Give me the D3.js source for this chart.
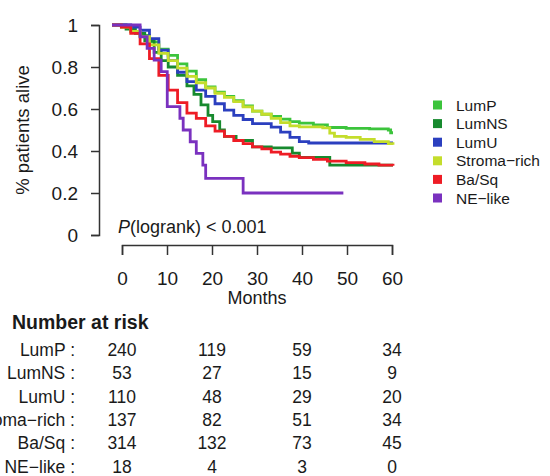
<!DOCTYPE html>
<html>
<head>
<meta charset="utf-8">
<script src="https://cdn.jsdelivr.net/npm/d3@7"></script>
<style>
  body { margin: 0; background: #fff; }
  text { font-family: "Liberation Sans", Arial, sans-serif; fill: #1a1a1a; }
</style>
</head>
<body>
<div id="chart"></div>
<script>
// subtypes and colours
var groups = ["LumP", "LumNS", "LumU", "Stroma-rich", "Ba/Sq", "NE-like"];
var colors = ["#3cc43c", "#178a2e", "#2b3fbf", "#c4dd2c", "#ee1c25", "#7a31bf"];

// survival curves [month, fraction alive]
var lumP = [[0,1],[2,0.99],[4,0.97],[6,0.95],[8,0.92],[10,0.885],[12,0.855],[14,0.815],[16,0.78],[18,0.74],[20,0.705],[22,0.68],[24,0.66],[26,0.64],[28,0.615],[30,0.59],[32,0.575],[34,0.565],[36,0.552],[38,0.54],[40,0.533],[43,0.524],[46,0.512],[50,0.508],[55,0.505],[59,0.5],[59.5,0.487],[60,0.487]];
var lumNS = [[0,1],[3,0.98],[5,0.96],[7,0.925],[9,0.87],[10.5,0.83],[12,0.8],[14,0.76],[16,0.71],[17.5,0.67],[19,0.62],[20.5,0.57],[21.5,0.54],[23,0.5],[24,0.47],[26.5,0.45],[30,0.42],[34,0.415],[38.5,0.39],[40,0.37],[46.5,0.333],[60,0.333]];
var lumU = [[0,1],[4,0.99],[6,0.975],[8,0.935],[10,0.88],[12,0.83],[14,0.775],[16,0.73],[18,0.69],[20,0.66],[22,0.625],[24,0.595],[26,0.57],[28,0.55],[30,0.53],[34,0.514],[36,0.49],[38,0.465],[40,0.445],[42,0.438],[60,0.438]];
var stromaRich = [[0,1],[2,0.99],[4,0.97],[6,0.945],[8,0.905],[10,0.865],[12,0.83],[14,0.795],[16,0.755],[18,0.725],[20,0.7],[22,0.675],[24,0.655],[26,0.635],[28,0.61],[30,0.59],[32,0.575],[34,0.555],[36,0.535],[38,0.52],[40,0.515],[45,0.51],[46.5,0.485],[47.5,0.47],[50,0.465],[53,0.455],[56,0.445],[59,0.435],[60,0.43]];
var baSq = [[0,1],[2,0.99],[4,0.96],[6,0.91],[8,0.84],[10,0.76],[12,0.69],[14,0.63],[16,0.58],[18,0.555],[20,0.52],[22,0.495],[24,0.47],[26,0.45],[28,0.435],[30,0.42],[32,0.41],[34,0.395],[36,0.385],[38,0.375],[40,0.368],[43,0.36],[46,0.352],[50,0.345],[54,0.338],[57,0.333],[60,0.33]];
var neLike = [[0,1],[6,0.944],[7.5,0.889],[9,0.833],[10.5,0.778],[11.8,0.611],[14.5,0.556],[15.2,0.5],[16.7,0.444],[18,0.389],[19.4,0.333],[20,0.27],[28,0.2],[49.4,0.2]];
var curves = [lumP, lumNS, lumU, stromaRich, baSq, neLike];

// number at risk table
var riskTimes = [0, 20, 40, 60];
var riskCounts = [
    [240, 119, 59, 34],
    [53, 27, 15, 9],
    [110, 48, 29, 20],
    [137, 82, 51, 34],
    [314, 132, 73, 45],
    [18, 4, 3, 0]
];

var yTicks = [0, 0.2, 0.4, 0.6, 0.8, 1];
var xTicks = [0, 10, 20, 30, 40, 50, 60];

var width = 550, height = 476;
var svg = d3.select("#chart").append("svg")
    .attr("width", width).attr("height", height);
svg.append("rect").attr("width", width).attr("height", height).attr("fill", "#fff");

// the axis and the curves are offset a little in the original figure
var xAxisScale = d3.scaleLinear().domain([0, 60]).range([122, 392]);
var xCurve = d3.scaleLinear().domain([0, 60]).range([112, 393]);
var y = d3.scaleLinear().domain([0, 1]).range([235, 25]);

//y axis
var yAxis = svg.append("g")
    .attr("transform", "translate(99,0)")
    .call(d3.axisLeft(y).tickValues(yTicks).tickSize(8).tickPadding(13)
        .tickFormat(function(d) { return d === 0 ? "0" : d === 1 ? "1" : d3.format(".1f")(d); }));
yAxis.selectAll("text").style("font-size", "19px").attr("fill", "#1a1a1a");
yAxis.selectAll("path, line").attr("stroke", "#333").attr("stroke-width", 1.5);

svg.append("text")
    .attr("transform", "translate(29,130) rotate(-90)")
    .attr("text-anchor", "middle")
    .style("font-size", "18.5px")
    .text("% patients alive");

//x axis
var xAxis = svg.append("g")
    .attr("transform", "translate(0,245)")
    .call(d3.axisBottom(xAxisScale).tickValues(xTicks).tickSize(10).tickPadding(17));
xAxis.selectAll("text").style("font-size", "19px").attr("fill", "#1a1a1a");
xAxis.selectAll("path, line").attr("stroke", "#333").attr("stroke-width", 1.5);

svg.append("text")
    .attr("x", xAxisScale(30)).attr("y", 304)
    .attr("text-anchor", "middle")
    .style("font-size", "18px")
    .text("Months");

// KM curves
var line = d3.line()
    .x(function(d) { return xCurve(d[0]); })
    .y(function(d) { return y(d[1]); })
    .curve(d3.curveStepAfter);

svg.append("g").selectAll("path")
    .data(curves)
    .enter().append("path")
    .attr("d", line)
    .attr("fill", "none")
    .attr("stroke", function(d, i) { return colors[i]; })
    .attr("stroke-width", 2.8);

// p value
var pText = svg.append("text")
    .attr("x", 118).attr("y", 233)
    .style("font-size", "18px");
pText.append("tspan").style("font-style", "italic").text("P");
pText.append("tspan").text("(logrank) < 0.001");

// legend
var legend = svg.append("g").selectAll("g")
    .data(groups)
    .enter().append("g")
    .attr("transform", function(d, i) { return "translate(433," + (105 + i * 18.6) + ")"; });
legend.append("rect")
    .attr("x", 0).attr("y", -4.5).attr("width", 9).attr("height", 9)
    .attr("fill", function(d, i) { return colors[i]; });
legend.append("text")
    .attr("x", 23).attr("y", 5.5)
    .style("font-size", "15.5px")
    .text(function(d) { return d.replace("-", "\u2212"); });

// number at risk
svg.append("text")
    .attr("x", 12).attr("y", 329)
    .style("font-size", "19.5px").style("font-weight", "bold")
    .text("Number at risk");

var rows = svg.append("g").selectAll("g")
    .data(groups)
    .enter().append("g")
    .attr("transform", function(d, i) { return "translate(0," + (356 + i * 23.3) + ")"; });
rows.append("text")
    .attr("x", 75).attr("text-anchor", "end")
    .style("font-size", "17.5px")
    .text(function(d) { return d.replace("-", "\u2212") + " :"; });
rows.selectAll("text.count")
    .data(function(d, i) { return riskCounts[i]; })
    .enter().append("text")
    .attr("class", "count")
    .attr("x", function(d, j) { return xAxisScale(riskTimes[j]); })
    .attr("text-anchor", "middle")
    .style("font-size", "17.5px")
    .text(function(d) { return d; });
</script>
</body>
</html>
